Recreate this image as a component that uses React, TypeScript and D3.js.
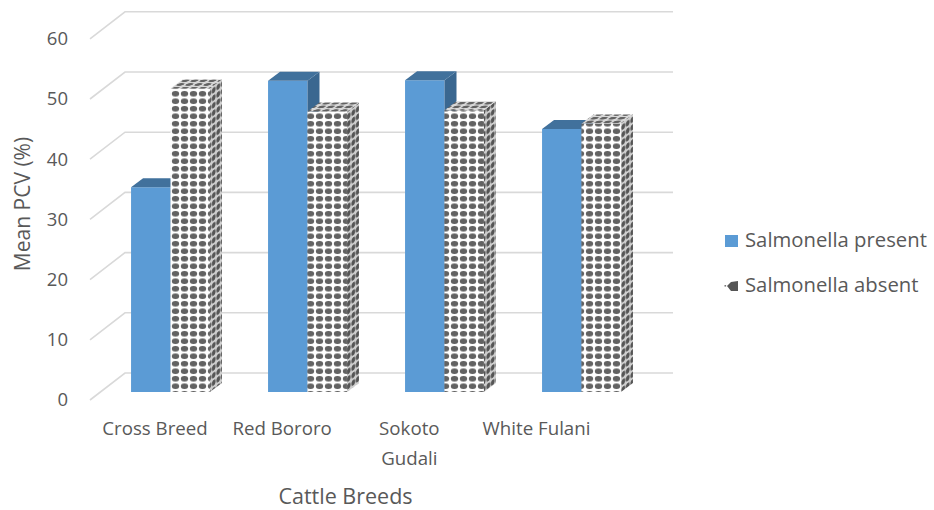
import React from "react";
import * as d3 from "d3";

const categories = ["Cross Breed", "Red Bororo", "Sokoto Gudali", "White Fulani"];
const categoryLines = [["Cross Breed"], ["Red Bororo"], ["Sokoto", "Gudali"], ["White Fulani"]];
const seriesNames = ["Salmonella present", "Salmonella absent"];
const presentValues = [34.0, 51.7, 51.8, 43.7];
const absentValues = [50.4, 46.6, 46.8, 44.6];
const yTicks = [0, 10, 20, 30, 40, 50, 60];

const W = 934;
const H = 510;
const FONT = "'Open Sans', sans-serif";
const TXT = "#595959";

export default function App() {
  const frontLeft = 90;
  const frontRight = 638;
  const depthX = 35;
  const depthY = 27;
  const y = d3.scaleLinear().domain([0, 60]).range([400, 38.8]);
  const x = d3.scaleBand<string>().domain(categories).range([frontLeft, frontRight]);
  const labelX = d3.scalePoint<string>().domain(categories).range([155, 536.5]);
  const barW = x.step() * 0.288;
  const fx = 12, fy = 8; // bar front offset
  const bx = 24, by = 17; // bar back offset

  const pts = (p: number[][]) => p.map((q) => q.join(",")).join(" ");

  const bar = (x0: number, v: number, front: string, top: string, side: string, key: string) => {
    const l = x0 + fx;
    const r = l + barW;
    const yb = y(0) - fy;
    const yt = y(v) - fy;
    const dx = bx - fx;
    const dy = by - fy;
    return (
      <g key={key}>
        <polygon points={pts([[l, yt], [r, yt], [r, yb], [l, yb]])} fill={front} />
        <polygon points={pts([[r, yt], [r + dx, yt - dy], [r + dx, yb - dy], [r, yb]])} fill={side} />
        <polygon points={pts([[l, yt], [l + dx, yt - dy], [r + dx, yt - dy], [r, yt]])} fill={top} />
      </g>
    );
  };

  return (
    <svg width={W} height={H} style={{ position: "absolute", left: 0, top: 0, background: "#fff" }}>
      <defs>
        <pattern id="dots" width={9} height={7.5} patternUnits="userSpaceOnUse">
          <rect width={9} height={7.5} fill="#ffffff" />
          <ellipse cx={4.5} cy={3.75} rx={3.7} ry={2.8} fill="#626262" />
        </pattern>
        <pattern id="dotsSide" width={4.5} height={7.5} patternUnits="userSpaceOnUse" patternTransform="skewY(-37)">
          <rect width={4.5} height={7.5} fill="#cfcfcf" />
          <ellipse cx={2.25} cy={3.75} rx={1.9} ry={2.7} fill="#555555" />
        </pattern>
        <pattern id="dotsTop" width={9} height={3.75} patternUnits="userSpaceOnUse" patternTransform="skewX(-53)">
          <rect width={9} height={3.75} fill="#d8d8d8" />
          <ellipse cx={4.5} cy={1.9} rx={3.4} ry={1.4} fill="#626262" />
        </pattern>
      </defs>

      {/* gridlines */}
      <g stroke="#d9d9d9" strokeWidth={1.6} fill="none">
        {yTicks.map((t) => (
          <polyline
            key={t}
            points={pts([[frontLeft, y(t)], [frontLeft + depthX, y(t) - depthY], [frontRight + depthX, y(t) - depthY]])}
          />
        ))}
      </g>

      {/* y tick labels */}
      <g fontFamily={FONT} fontSize={18.5} fill={TXT} textAnchor="end">
        {yTicks.map((t) => (
          <text key={t} x={68} y={y(t)} dy="0.35em">
            {t}
          </text>
        ))}
      </g>

      {/* bars */}
      {categories.map((c, i) => {
        const x0 = x(c)! + x.bandwidth() / 2 - barW;
        return (
          <g key={c}>
            {bar(x0, presentValues[i], "#5b9bd5", "#41719c", "#3a6790", "p" + i)}
            {bar(x0 + barW, absentValues[i], "url(#dots)", "url(#dotsTop)", "url(#dotsSide)", "a" + i)}
          </g>
        );
      })}

      {/* category labels */}
      <g fontFamily={FONT} fontSize={18.7} fill={TXT} textAnchor="middle">
        {categories.map((c, i) => (
          <text key={c} x={labelX(c)} y={435}>
            {categoryLines[i].map((line, j) => (
              <tspan key={j} x={labelX(c)} dy={j === 0 ? 0 : 30}>
                {line}
              </tspan>
            ))}
          </text>
        ))}
      </g>

      {/* axis titles */}
      <text x={345.5} y={504} fontFamily={FONT} fontSize={21.5} fill={TXT} textAnchor="middle">
        Cattle Breeds
      </text>
      <text
        transform="translate(30,204) rotate(-90)"
        fontFamily={FONT}
        fontSize={21}
        fill={TXT}
        textAnchor="middle"
      >
        Mean PCV (%)
      </text>

      {/* legend */}
      <g fontFamily={FONT} fontSize={20.3} fill={TXT}>
        <rect x={725} y={235} width={13} height={12} fill="#5b9bd5" />
        <text x={745} y={247}>{seriesNames[0]}</text>
        <polygon points={pts([[727, 286], [731, 282], [738, 281], [738, 291], [731, 291]])} fill="#555" />
        <rect x={724.5} y={285} width={1.6} height={1.6} fill="#777" />
        <text x={745} y={292}>{seriesNames[1]}</text>
      </g>
    </svg>
  );
}
